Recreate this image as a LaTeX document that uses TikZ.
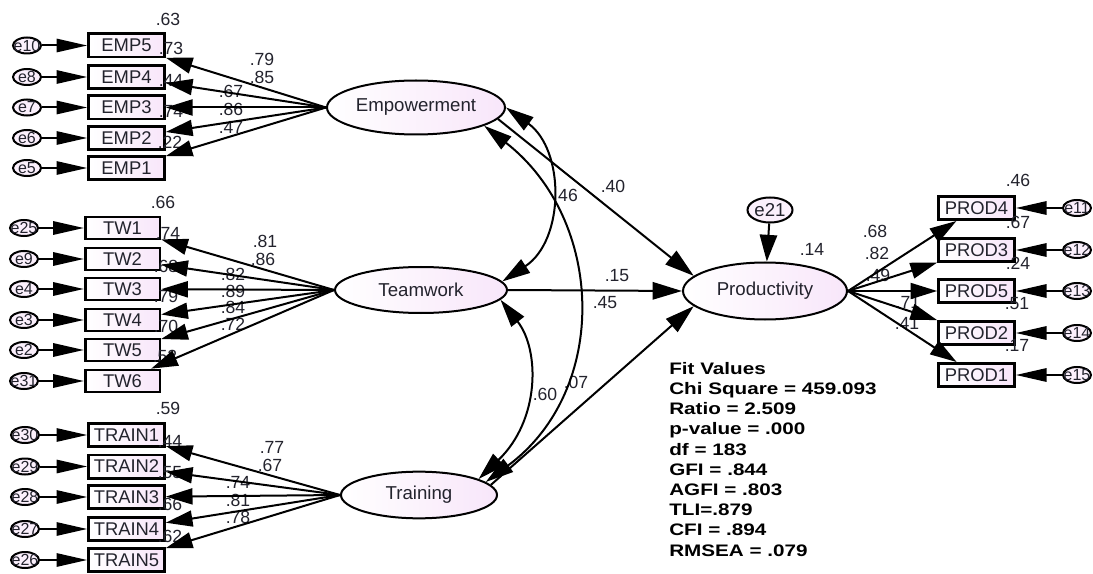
\documentclass[tikz,border=0pt]{standalone}
\usepackage{fontspec}
\setmainfont{Liberation Sans}
\newfontfamily\fitfont[FakeStretch=1.24]{Liberation Sans}
\usetikzlibrary{arrows.meta,shapes.geometric}
\definecolor{boxpink}{RGB}{248,230,250}
\definecolor{txt}{RGB}{35,35,45}
\begin{document}
\begin{tikzpicture}[x=0.75pt,y=-0.75pt,
  obs/.style={draw, line width=2pt, left color=white, right color=boxpink, minimum width=57pt, minimum height=17.5pt, inner sep=0pt, text=txt, font=\fontsize{13.8}{14}\selectfont},
  lat/.style={ellipse, draw, line width=1.5pt, left color=white, right color=boxpink, inner sep=0pt, text=txt, font=\fontsize{14}{16}\selectfont},
  err/.style={ellipse, draw, line width=1.5pt, fill=boxpink!60, minimum width=21pt, minimum height=12pt, inner sep=0pt},
  etxt/.style={font=\fontsize{12}{12}\selectfont, text=txt, inner sep=0pt},
  lab/.style={font=\fontsize{13.2}{13.2}\selectfont, text=txt, inner sep=0pt},
  ld/.style={line width=1.5pt, -{Triangle[length=20pt,width=12pt]}},
  ea/.style={line width=1.5pt, -{Triangle[length=23pt,width=10pt]}},
  cv/.style={line width=1.5pt, {Triangle[length=21pt,width=12pt]}-{Triangle[length=21pt,width=12pt]}}
]
\fill[white] (0,0) rectangle (1093,574);
\useasboundingbox (0,0) rectangle (1093,574);

% latent variables
\node[lat, minimum width=133.5pt, minimum height=40.5pt] (E) at (416,107.5) {Empowerment};
\node[lat, minimum width=129pt, minimum height=34.5pt] (T) at (421,290) {Teamwork};
\node[lat, minimum width=117pt, minimum height=35pt] (Tr) at (419,495) {Training};
\node[lat, minimum width=123pt, minimum height=42.75pt] (P) at (765,291) {Productivity};
\node[err, minimum width=33.75pt, minimum height=18.75pt, label={[etxt, font=\fontsize{14}{14}\selectfont]center:e21}] (e21) at (770,210) {};

% observed variables and errors
\foreach \n/\y/\e in {EMP5/45.5/e10, EMP4/77/e8, EMP3/107.5/e7, EMP2/138/e6, EMP1/168/e5}{
  \node[obs] (\n) at (126.5,\y) {\n};
  \node[err, label={[etxt]center:\e}] (\e) at (27,\y) {};
}
\foreach \n/\y/\e in {TW1/228/e25, TW2/259/e9, TW3/289/e4, TW4/320/e3, TW5/350/e2, TW6/381/e31}{
  \node[obs, minimum width=56pt, minimum height=16.5pt] (\n) at (122.5,\y) {\n};
  \node[err, label={[etxt]center:\e}] (\e) at (24,\y) {};
}
\foreach \n/\y/\e in {TRAIN1/435/e30, TRAIN2/466.5/e29, TRAIN3/497/e28, TRAIN4/529/e27, TRAIN5/560/e26}{
  \node[obs] (\n) at (126.5,\y) {\n};
  \node[err, label={[etxt]center:\e}] (\e) at (25,\y) {};
}
\foreach \n/\y/\e in {PROD4/208/e11, PROD3/250/e12, PROD5/291/e13, PROD2/333/e14, PROD1/375/e15}{
  \node[obs] (\n) at (976.5,\y) {\n};
  \node[err, label={[etxt]center:\e}] (\e) at (1077,\y) {};
}

% numeric labels
\foreach \t/\x/\y [count=\i] in {.63/168/19, .73/171/48, .44/171/80, .74/171/111, .22/170/142,
  .79/262/59, .85/262/77, .67/231/91, .86/231/109, .47/231/127,
  .66/163/202, .74/168/233, .68/166/266, .79/166/296, .70/166/326, .52/165/356,
  .81/265/241, .86/263/259, .82/233/274, .89/233/291, .84/233/307, .72/233/324,
  .59/168/408, .44/170/441, .55/170/473, .66/170/504, .62/170/536,
  .77/272/447, .67/270/465, .74/238/482, .81/238/500, .78/238/517,
  .46/1018/180, .67/1018/222, .24/1018/263, .51/1017/304, .17/1017/345,
  .68/875/231, .82/877/253, .49/878/275, .71/908/302, .41/907/323,
  .14/812/249, .40/613/186, 46/568/195, .15/617/276, .45/605/303, .60/545/394, .07/576/382}{
  \node[lab] (n\i) at (\x,\y) {\t};
}

% fit values
\node[anchor=north west, align=left, inner sep=0pt, font=\fitfont\fontsize{12.5}{15.15}\selectfont\bfseries] (fit) at (669,362)
  {Fit Values\\Chi Square = 459.093\\Ratio = 2.509\\p-value = .000\\df = 183\\GFI = .844\\AGFI = .803\\TLI=.879\\CFI = .894\\RMSEA = .079};

% error arrows
\foreach \e/\n in {e10/EMP5, e8/EMP4, e7/EMP3, e6/EMP2, e5/EMP1,
  e25/TW1, e9/TW2, e4/TW3, e3/TW4, e2/TW5, e31/TW6,
  e30/TRAIN1, e29/TRAIN2, e28/TRAIN3, e27/TRAIN4, e26/TRAIN5,
  e11/PROD4, e12/PROD3, e13/PROD5, e14/PROD2, e15/PROD1}{
  \draw[ea] (\e) -- (\n);
}
\draw[line width=1.5pt, -{Triangle[length=20pt,width=13pt]}] (e21) -- (P);

% loadings
\foreach \n in {EMP5,EMP4,EMP3,EMP2,EMP1}{ \draw[ld] (E.west) -- (\n); }
\foreach \n in {TW1,TW2,TW3,TW4,TW5,TW6}{ \draw[ld] (T.west) -- (\n); }
\foreach \n in {TRAIN1,TRAIN2,TRAIN3,TRAIN4,TRAIN5}{ \draw[ld] (Tr.west) -- (\n); }
\foreach \n in {PROD4,PROD3,PROD5,PROD2,PROD1}{ \draw[ld] (P.east) -- (\n); }

% structural paths
\draw[ld, -{Triangle[length=22pt,width=13pt]}] (E.-8) -- (P.168);
\draw[ld, -{Triangle[length=22pt,width=13pt]}] (T.east) -- (P.west);
\draw[ld, -{Triangle[length=22pt,width=13pt]}] (Tr.8) -- (P.192);

% covariances
\draw[cv] (E.east) .. controls (565,150) and (565,240) .. (T.6);
\draw[cv] (E.-15) .. controls (605,220) and (610,390) .. (Tr.11);
\draw[cv] (T.-7) .. controls (540,350) and (540,420) .. (Tr.15);
\end{tikzpicture}
\end{document}
